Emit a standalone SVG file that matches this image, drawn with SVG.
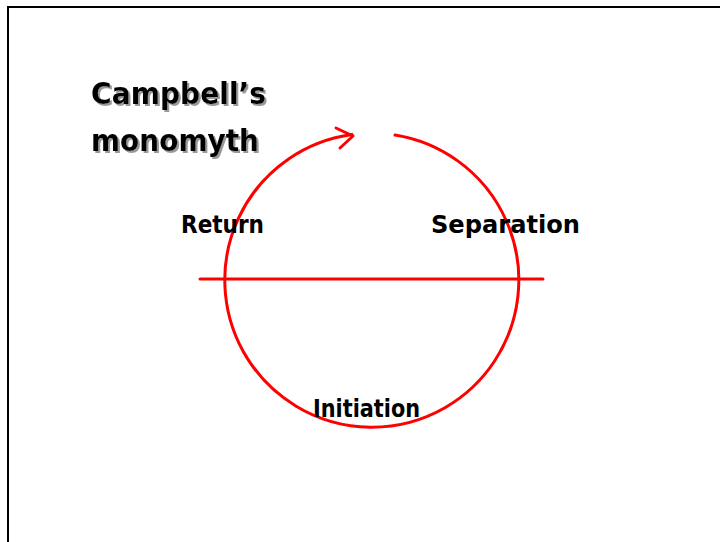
<svg xmlns="http://www.w3.org/2000/svg" width="720" height="542" viewBox="0 0 720 542">
<style>
.lbl{font-family:"DejaVu Sans","Liberation Sans",sans-serif;font-size:24px;fill:#000;font-weight:bold}
.ttl{font-family:"DejaVu Sans","Liberation Sans",sans-serif;font-size:31px;font-weight:bold;fill:#000}
.red{stroke:#ff0000;stroke-width:3;fill:none;stroke-linecap:round;stroke-linejoin:round}
</style>
<defs>
<filter id="sh" x="-10%" y="-20%" width="130%" height="150%">
<feFlood flood-color="#999"/>
<feComposite in2="SourceAlpha" operator="in"/>
<feOffset dx="2" dy="2" result="s"/>
<feMerge><feMergeNode in="s"/><feMergeNode in="SourceGraphic"/></feMerge>
</filter>
</defs>
<rect width="720" height="542" fill="#fff"/>
<path d="M8 542 V7 H720" fill="none" stroke="#000" stroke-width="2"/>
<g id="title" filter="url(#sh)">
<text class="ttl" x="91" y="104" textLength="175" lengthAdjust="spacingAndGlyphs">Campbell’s</text>
<text class="ttl" x="91" y="151" textLength="168" lengthAdjust="spacingAndGlyphs">monomyth</text>
</g>
<g id="connectors">
<line class="red" x1="200" y1="279" x2="543" y2="279"/>
<path class="red" d="M395 135 A147 147 0 1 1 352 134.5"/>
<path class="red" stroke-width="3.5" d="M336 128 L353 136 L340 148"/>
</g>
<g id="return"><text class="lbl" x="181" y="233" textLength="83" lengthAdjust="spacingAndGlyphs">Return</text></g>
<g id="separation"><text class="lbl" x="431" y="233" textLength="149" lengthAdjust="spacingAndGlyphs">Separation</text></g>
<g id="initiation"><text class="lbl" x="313" y="417" textLength="107" lengthAdjust="spacingAndGlyphs">Initiation</text></g>
</svg>
